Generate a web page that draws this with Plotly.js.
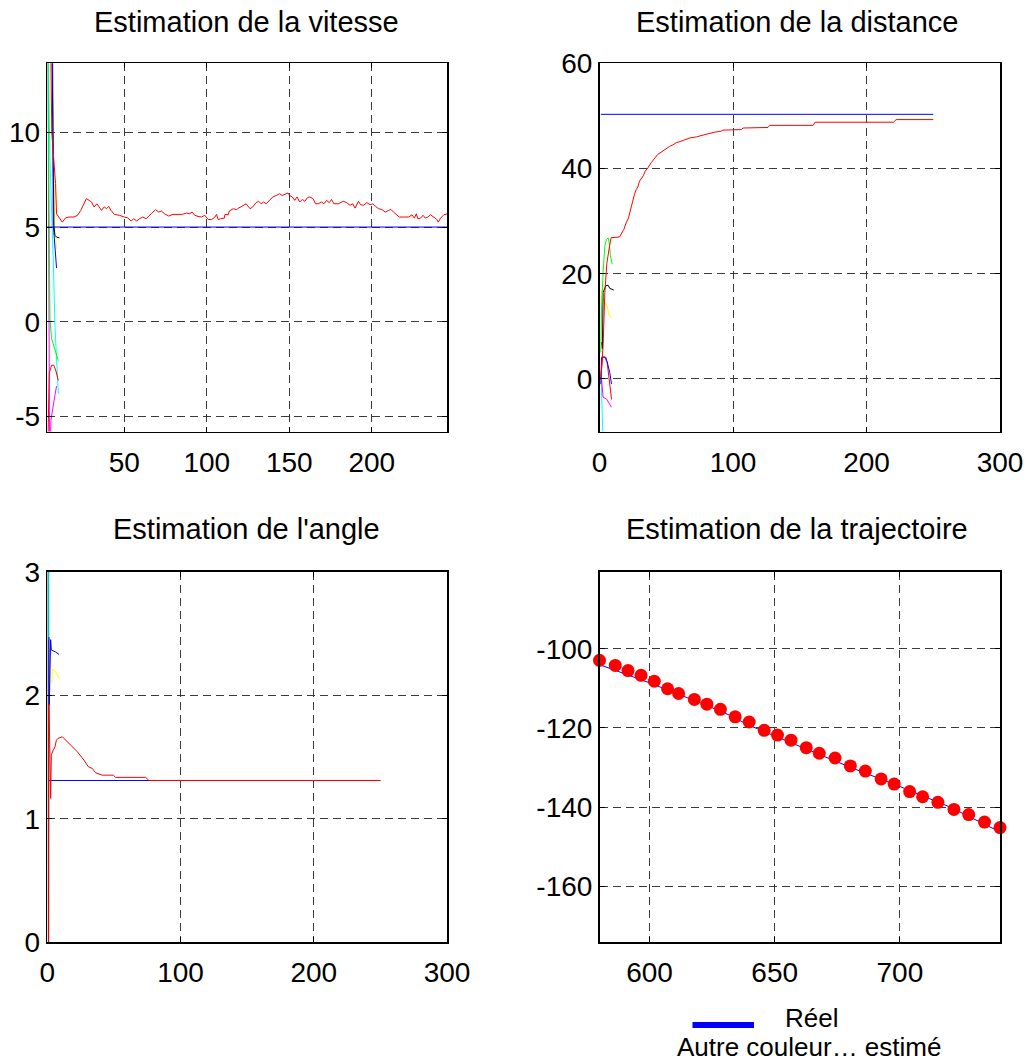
<!DOCTYPE html>
<html>
<head>
<meta charset="utf-8">
<script src="https://cdn.plot.ly/plotly-3.0.1.min.js"></script>
<style>html,body{margin:0;padding:0;background:#fff;}#chart{width:1026px;height:1063px;}</style>
</head>
<body>
<div id="chart"></div>
<script>
// ---------- Titles / labels ----------
const titles = ["Estimation de la vitesse", "Estimation de la distance", "Estimation de l'angle", "Estimation de la trajectoire"];
const legendLabels = ["Réel", "Autre couleur… estimé"];

// ---------- Vitesse (top-left) ----------
const vitReelX = [1, 250];
const vitReelY = [5, 5];
const vitEstX = [3.3, 5.5, 6.0, 8.3, 8.9, 12.4, 14.4, 16.5, 19.5, 21.6, 23.6, 25.6, 27.0, 28.7, 30.1, 31.7, 33.3, 34.8, 36.2, 37.8, 39.2, 40.5, 41.9, 43.9, 47.0, 50.0, 52.0, 54.1, 55.7, 57.5, 59.2, 61.2, 63.2, 66.3, 68.9, 70.8, 72.4, 74.4, 76.9, 79.5, 82.5, 85.2, 87.6, 89.7, 91.1, 92.7, 94.7, 96.8, 98.8, 100.8, 102.9, 104.9, 105.9, 106.9, 108.4, 110.6, 111.0, 113.0, 113.6, 115.1, 116.1, 118.1, 119.1, 121.2, 123.8, 126.2, 127.8, 129.9, 131.5, 132.9, 134.4, 136.0, 138.0, 140.0, 142.1, 144.1, 145.7, 147.8, 149.2, 150.2, 151.8, 153.3, 154.7, 156.3, 157.9, 159.4, 161.0, 162.4, 164.4, 165.9, 167.5, 169.5, 171.0, 172.6, 174.2, 175.6, 177.0, 179.7, 182.7, 184.8, 186.8, 188.4, 189.9, 191.9, 193.3, 195.0, 197.0, 199.0, 200.6, 202.1, 204.1, 206.1, 208.2, 210.2, 211.6, 213.2, 215.3, 216.7, 219.3, 222.4, 224.4, 225.8, 227.0, 227.9, 229.5, 231.1, 232.5, 234.0, 235.6, 237.6, 239.3, 240.3, 241.7, 243.7, 245.8, 247.2];
const vitEstY = [20, 13.9, 10, 7.3, 5.70, 5.26, 5.49, 5.53, 5.53, 5.62, 5.88, 6.23, 6.50, 6.41, 6.32, 6.06, 6.23, 6.06, 5.88, 6.06, 5.97, 6.09, 5.88, 5.67, 5.62, 5.53, 5.49, 5.32, 5.44, 5.32, 5.44, 5.53, 5.44, 5.70, 5.92, 5.79, 5.85, 5.70, 5.58, 5.67, 5.67, 5.67, 5.74, 5.70, 5.79, 5.62, 5.56, 5.53, 5.62, 5.40, 5.39, 5.53, 5.67, 5.39, 5.44, 5.47, 5.67, 5.65, 5.85, 5.91, 5.97, 5.91, 6.00, 6.09, 6.23, 5.97, 6.06, 6.29, 6.36, 6.23, 6.32, 6.23, 6.41, 6.59, 6.67, 6.76, 6.67, 6.76, 6.80, 6.67, 6.59, 6.41, 6.59, 6.32, 6.46, 6.36, 6.55, 6.59, 6.50, 6.23, 6.23, 6.32, 6.23, 6.41, 6.29, 6.46, 6.23, 6.23, 6.36, 6.29, 6.15, 6.23, 6.00, 6.36, 6.18, 6.15, 6.29, 6.18, 6.23, 6.11, 5.97, 5.93, 5.79, 5.88, 5.93, 5.79, 5.65, 5.53, 5.53, 5.53, 5.65, 5.47, 5.70, 5.44, 5.47, 5.62, 5.47, 5.53, 5.65, 5.53, 5.41, 5.26, 5.47, 5.65, 5.70, 5.79];
// transient estimates (other particles)
const vitMagX = [3.3, 4.7, 5.5, 6.9, 7.9, 8.9];
const vitMagY = [25, -8, -5.2, -4.3, -3.9, -3.4];
const vitCyanX = [3.3, 3.86, 4.88, 6.9, 7.93, 9.96];
const vitCyanY = [18, 13.9, 8.6, 3.3, -0.2, -3.8];
const vitGreenX = [3.3, 4.47, 4.88, 5.9, 7.9, 9.96];
const vitGreenY = [18, 4, 0.15, -0.9, -1.44, -2.06];
const vitRed2X = [3.3, 4.5, 5.9, 7.3, 8.5, 9.96];
const vitRed2Y = [-8, -2.7, -2.3, -2.3, -2.6, -3.1];
const vitBlueX = [6.3, 6.5, 6.9, 7.3, 7.9, 8.9];
const vitBlueY = [20, 14, 5.1, 4.7, 4.0, 2.83];
const vitBlackX = [6.0, 7.3, 7.9, 8.9, 10.6];
const vitBlackY = [16, 5.09, 4.56, 4.47, 4.43];
const vitYellowX = [6.5, 7.9, 8.9];
const vitYellowY = [12, 4.9, 3.85];

// ---------- Distance (top-right) ----------
const distReelX = [1, 250];
const distReelY = [50.3, 50.3];
const distEstX = [1, 2, 2.7, 4, 5.5, 7.7, 8.7, 15.0, 16.2, 18.2, 20.0, 21.7, 23.0, 24.2, 25.0, 26.2, 27.5, 28.7, 30.0, 31.2, 33.0, 34.2, 36.2, 38.7, 41.2, 43.7, 46.2, 48.7, 50.5, 52.5, 55.0, 57.5, 61.2, 63.7, 67.5, 72.5, 76.2, 81.2, 86.2, 91.2, 92.5, 106.2, 107.5, 126.2, 127.5, 160, 161.5, 220.2, 222.2, 250];
const distEstY = [0, 3, 6.3, 16.4, 22, 25.5, 26.85, 26.98, 27.5, 28.4, 29.7, 30.6, 31.9, 33.2, 34.4, 35.1, 36.0, 36.5, 37.6, 38.0, 38.7, 39.5, 40.1, 41.1, 41.8, 42.7, 43.1, 43.6, 43.9, 44.2, 44.5, 44.9, 45.2, 45.5, 45.8, 46.0, 46.3, 46.6, 46.9, 47.1, 47.3, 47.4, 47.7, 47.8, 48.2, 48.2, 48.8, 48.8, 49.3, 49.3];
const distRed2X = [1, 2.2, 4, 5.7, 7.2, 9];
const distRed2Y = [0, 4.1, 4.1, 3.2, 0, -3.9];
const distBlueX = [1, 1.5, 3.2, 4.7, 6.5, 7.7, 9.0];
const distBlueY = [-1, 4.1, 4.2, 4.1, 2.5, 1.2, -1.0];
const distMagX = [1.5, 2.7, 5.2, 7.7, 9];
const distMagY = [0, -3.5, -3.8, -4.75, -5.4];
const distCyanX = [1.2, 2.7];
const distCyanY = [0.5, -12];
const distGreenX = [1, 1.5, 2.7, 4, 5.2, 6.5, 7.2, 8.2, 9.5];
const distGreenY = [5, 13.3, 20.2, 25.3, 26.5, 26.8, 25.9, 23.4, 21.8];
const distYellowX = [1.5, 1.6, 2.2, 4, 5.7, 7.2, 9];
const distYellowY = [17.0, 13.5, 15.2, 14.5, 13.9, 12.0, 11.7];
const distBlackX = [1.5, 2.2, 2.7, 4.7, 6.5, 7.7, 10.7];
const distBlackY = [7, 5.7, 16.4, 17.7, 17.8, 17.2, 16.9];

// ---------- Angle (bottom-left) ----------
const angReelX = [1, 250];
const angReelY = [1.31, 1.31];
const angEstX = [1, 1.27, 2.52, 3.0, 4.5, 5.8, 6.8, 8.0, 11.3, 17.5, 22.5, 27.5, 30.8, 33.8, 36.3, 41.3, 49.5, 51.3, 73.8, 76.3, 250];
const angEstY = [-0.5, 1.93, 1.165, 1.515, 1.556, 1.583, 1.637, 1.65, 1.664, 1.597, 1.543, 1.475, 1.421, 1.407, 1.372, 1.353, 1.353, 1.335, 1.335, 1.31, 1.31];
const angCyanX = [1.2, 1.3];
const angCyanY = [3.3, 2.45];
const angBlueX = [1.3, 1.5, 2.5, 3.0, 6.3, 8.8];
const angBlueY = [2.47, 1.92, 2.45, 2.366, 2.35, 2.33];
const angYellowX = [3.4, 3.8, 6.3, 8.0, 9.3];
const angYellowY = [2.1, 2.21, 2.19, 2.15, 2.13];
const angBlackX = [0.6, 0.8];
const angBlackY = [3.3, -0.3];

// ---------- Trajectoire (bottom-right) ----------
const trajReelX = [580, 600, 620, 630, 640, 650, 660, 680, 700, 720, 740];
const trajReelY = [-104.0, -108.6, -113.6, -116.2, -119.4, -122.0, -124.6, -129.9, -134.8, -140.0, -146.3];
const trajEstX = [580, 586.3, 591.4, 596.6, 601.9, 607.2, 611.6, 617.9, 622.9, 628.3, 634.2, 639.8, 645.8, 651.1, 656.5, 662.6, 667.8, 674.1, 680.2, 686.2, 692.5, 697.7, 703.9, 709.1, 715.2, 721.6, 727.5, 733.8, 740.0];
const trajEstY = [-102.9, -104.2, -105.5, -106.7, -108.2, -110.1, -111.3, -112.8, -114.0, -115.3, -117.2, -118.5, -120.6, -121.8, -123.1, -125.0, -126.4, -127.6, -129.6, -130.9, -132.9, -134.2, -136.1, -137.4, -138.8, -140.6, -141.9, -143.8, -145.2];

// ---------- Build ----------
const W = 1026, H = 1063;
const FONT = "Liberation Sans, Arial, Helvetica, sans-serif";
const C = {r:'#ff0000', b:'#0000ff', g:'#00ff00', c:'#00ffff', m:'#ff00ff', y:'#ffff00', k:'#000000'};

function ln(x, y, color, n, w) {
  return {x: x, y: y, type: 'scatter', mode: 'lines', line: {color: color, width: w || 1},
          xaxis: 'x' + (n === 1 ? '' : n), yaxis: 'y' + (n === 1 ? '' : n), showlegend: false, hoverinfo: 'skip'};
}

const traces = [
  // vitesse
  ln(vitMagX, vitMagY, C.m, 1), ln(vitCyanX, vitCyanY, C.c, 1), ln(vitGreenX, vitGreenY, C.g, 1),
  ln(vitRed2X, vitRed2Y, C.r, 1), ln(vitYellowX, vitYellowY, C.y, 1), ln(vitBlackX, vitBlackY, C.k, 1),
  ln(vitBlueX, vitBlueY, C.b, 1),
  ln(vitEstX, vitEstY, C.r, 1), ln(vitReelX, vitReelY, C.b, 1),
  // distance
  ln(distCyanX, distCyanY, C.c, 2), ln(distMagX, distMagY, C.m, 2), ln(distRed2X, distRed2Y, C.r, 2),
  ln(distBlueX, distBlueY, C.b, 2), ln(distYellowX, distYellowY, C.y, 2), ln(distBlackX, distBlackY, C.k, 2),
  ln(distGreenX, distGreenY, C.g, 2),
  ln(distReelX, distReelY, C.b, 2), ln(distEstX, distEstY, C.r, 2),
  // angle
  ln(angBlackX, angBlackY, C.k, 3), ln(angCyanX, angCyanY, C.c, 3), ln(angYellowX, angYellowY, C.y, 3),
  ln(angBlueX, angBlueY, C.b, 3),
  ln(angReelX, angReelY, C.b, 3), ln(angEstX, angEstY, C.r, 3),
  // trajectoire
  ln(trajReelX, trajReelY, C.b, 4),
  {x: trajEstX, y: trajEstY, type: 'scatter', mode: 'markers', marker: {color: C.r, size: 13, line: {width: 0}},
   xaxis: 'x4', yaxis: 'y4', showlegend: false, hoverinfo: 'skip', cliponaxis: false}
];

function axis(range, tickvals, domain, anchor, isX) {
  return {range: range, tickvals: tickvals, ticktext: tickvals.map(String), domain: domain, anchor: anchor,
    showline: true, linecolor: '#000', linewidth: 1.5, mirror: 'ticks',
    ticks: 'inside', ticklen: 5, tickcolor: '#000', tickwidth: 1,
    showgrid: true, gridcolor: '#3a3a3a', gridwidth: 1, griddash: '8px,5px',
    zeroline: false, fixedrange: true, ticklabelstandoff: isX ? 5 : 0,
    tickfont: {family: FONT, size: 28, color: '#000'}};
}

const xL = [47.3 / W, 447 / W], xR = [599.5 / W, 1000 / W];
const yT = [1 - 431.5 / H, 1 - 63.3 / H], yB = [1 - 942.3 / H, 1 - 571.7 / H];

const titleFont = {family: FONT, size: 29, color: '#000'};
const legFont = {family: FONT, size: 26, color: '#000'};

const layout = {
  width: W, height: H, margin: {l: 0, r: 0, t: 0, b: 0}, paper_bgcolor: '#fff', plot_bgcolor: '#fff',
  showlegend: false, font: {family: FONT, size: 26, color: '#000'},
  xaxis: axis([3.3, 245.6], [50, 100, 150, 200], xL, 'y', true),
  yaxis: axis([-5.8, 13.65], [-5, 0, 5, 10], yT, 'x', false),
  xaxis2: axis([0, 300], [0, 100, 200, 300], xR, 'y2', true),
  yaxis2: axis([-10, 60], [0, 20, 40, 60], yT, 'x2', false),
  xaxis3: axis([0, 300], [0, 100, 200, 300], xL, 'y3', true),
  yaxis3: axis([0, 3], [0, 1, 2, 3], yB, 'x3', false),
  xaxis4: axis([580, 740], [600, 650, 700], xR, 'y4', true),
  yaxis4: axis([-174.2, -80.5], [-160, -140, -120, -100], yB, 'x4', false),
  annotations: [
    {text: titles[0], x: 246 / W, y: 1 - 22 / H, font: titleFont},
    {text: titles[1], x: 797 / W, y: 1 - 22 / H, font: titleFont},
    {text: titles[2], x: 246 / W, y: 1 - 529 / H, font: titleFont},
    {text: titles[3], x: 797 / W, y: 1 - 529 / H, font: titleFont},
    {text: legendLabels[0], x: 811.5 / W, y: 1 - 1018 / H, font: legFont},
    {text: legendLabels[1], x: 809 / W, y: 1 - 1047 / H, font: legFont}
  ].map(a => Object.assign({xref: 'paper', yref: 'paper', xanchor: 'center', yanchor: 'middle', showarrow: false, borderpad: 0}, a)),
  shapes: [
    {type: 'line', xref: 'paper', yref: 'paper', x0: 692.5 / W, x1: 754 / W, y0: 1 - 1025 / H, y1: 1 - 1025 / H,
     line: {color: C.b, width: 6}}
  ]
};

Plotly.newPlot('chart', traces, layout, {displayModeBar: false, staticPlot: true});
</script>
</body>
</html>
